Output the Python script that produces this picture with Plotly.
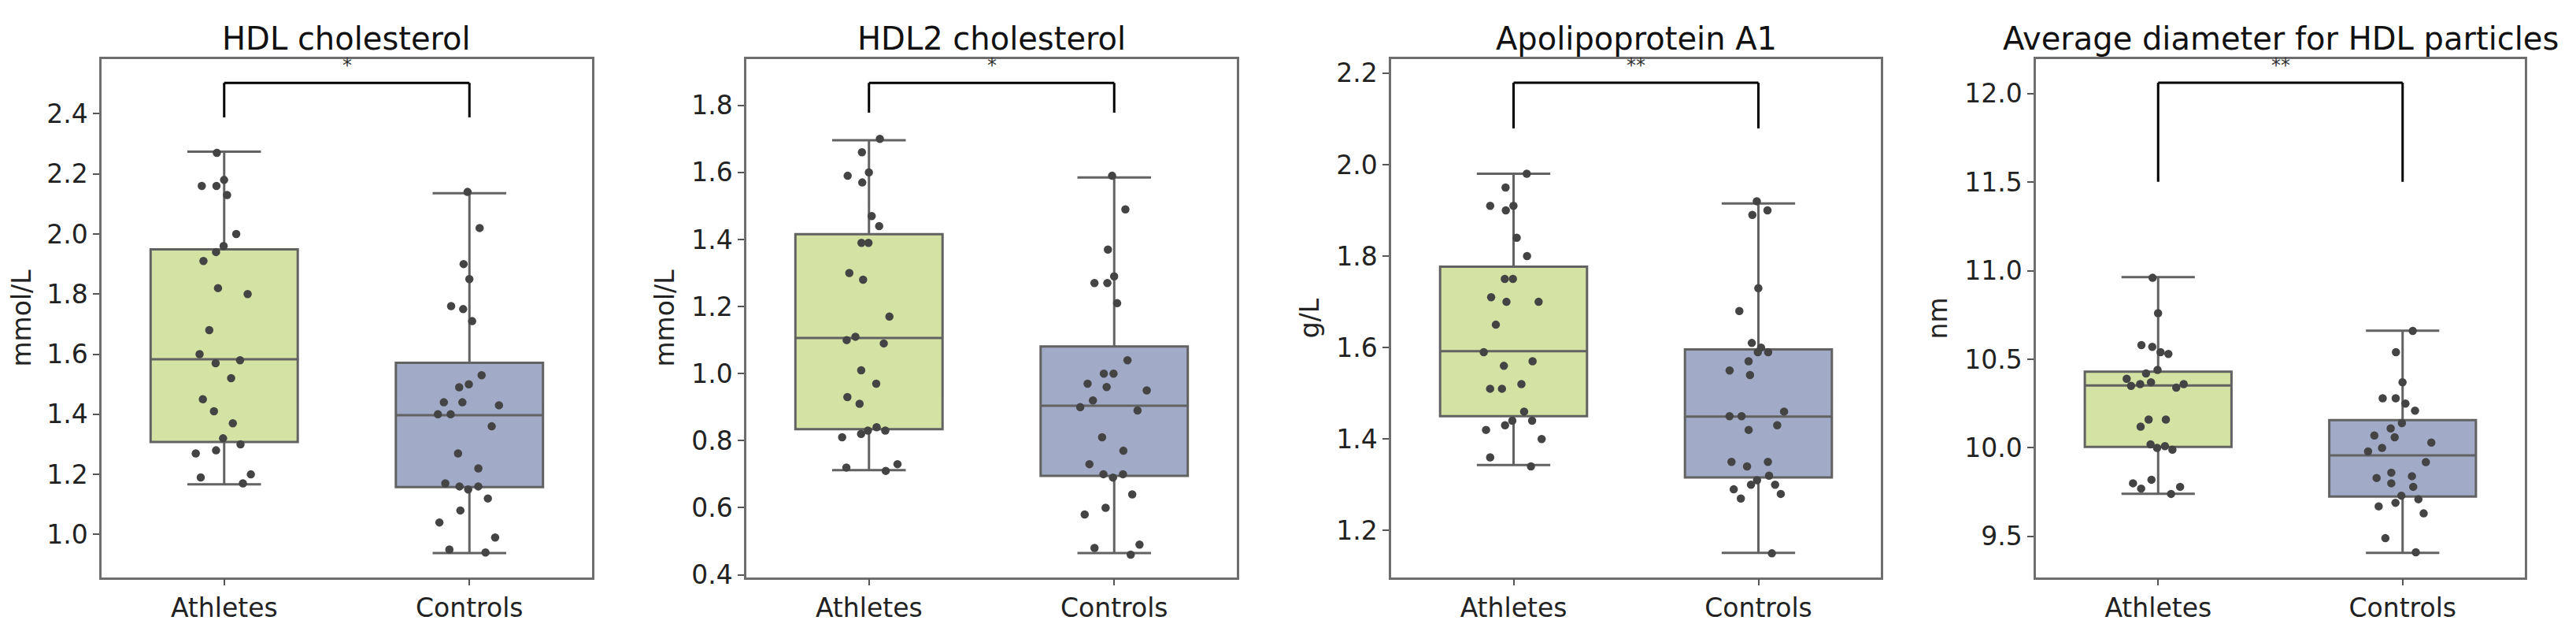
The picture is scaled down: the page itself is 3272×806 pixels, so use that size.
import plotly.graph_objects as go

# %% data
GROUPS = ["Athletes", "Controls"]
TITLES = ["HDL cholesterol", "HDL2 cholesterol", "Apolipoprotein A1",
          "Average diameter for HDL particles"]
UNITS = ["mmol/L", "mmol/L", "g/L", "nm"]
STARS = ["*", "*", "**", "**"]

# individual measurements (strip plot)
hdl_athletes = [2.27, 2.16, 2.13, 2.18, 2.16, 2.00, 1.96, 1.94, 1.91, 1.80, 1.82, 1.68, 1.60,
                1.58, 1.57, 1.52, 1.45, 1.41, 1.37, 1.32, 1.30, 1.28, 1.27, 1.20, 1.19, 1.17]
hdl_controls = [2.14, 2.02, 1.90, 1.85, 1.76, 1.75, 1.71, 1.53, 1.50, 1.49, 1.43, 1.44, 1.44, 1.40,
                1.40, 1.36, 1.27, 1.22, 1.16, 1.15, 1.12, 1.16, 1.17, 1.08, 1.04, 0.99, 0.95, 0.94]

hdl2_athletes = [1.70, 1.66, 1.60, 1.59, 1.57, 1.47, 1.44, 1.39, 1.39, 1.30, 1.28, 1.17, 1.11, 1.10,
                 1.09, 1.01, 0.97, 0.93, 0.91, 0.84, 0.83, 0.83, 0.82, 0.81, 0.73, 0.72, 0.71]
hdl2_controls = [1.59, 1.49, 1.37, 1.29, 1.27, 1.27, 1.21, 1.04, 1.00, 1.00, 0.97, 0.96, 0.95, 0.92,
                 0.90, 0.89, 0.81, 0.77, 0.73, 0.70, 0.70, 0.69, 0.64, 0.60, 0.58, 0.48, 0.49, 0.46]

apoa1_athletes = [1.98, 1.95, 1.91, 1.91, 1.90, 1.84, 1.80, 1.75, 1.75, 1.71, 1.70, 1.70, 1.65, 1.59,
                  1.57, 1.56, 1.52, 1.51, 1.51, 1.46, 1.44, 1.44, 1.43, 1.42, 1.40, 1.36, 1.34]
apoa1_controls = [1.92, 1.89, 1.90, 1.73, 1.68, 1.61, 1.60, 1.59, 1.59, 1.57, 1.55, 1.54, 1.46, 1.45,
                  1.45, 1.43, 1.42, 1.35, 1.35, 1.34, 1.32, 1.31, 1.30, 1.30, 1.29, 1.28, 1.27, 1.15]

diam_athletes = [10.96, 10.76, 10.57, 10.53, 10.58, 10.54, 10.44, 10.42, 10.36, 10.36, 10.34, 10.39,
                 10.37, 10.35, 10.16, 10.16, 10.12, 9.99, 10.00, 10.01, 10.02, 9.82, 9.78, 9.77,
                 9.74, 9.80]
diam_controls = [10.66, 10.54, 10.37, 10.25, 10.28, 10.28, 10.21, 10.14, 10.11, 10.06, 10.07, 10.03,
                 10.00, 9.98, 9.92, 9.86, 9.83, 9.84, 9.80, 9.78, 9.73, 9.69, 9.71, 9.67, 9.63,
                 9.49, 9.41]

# box statistics: q1, median, q3, lower whisker, upper whisker
hdl_box_athletes = [1.308, 1.583, 1.949, 1.167, 2.274]
hdl_box_controls = [1.158, 1.397, 1.571, 0.938, 2.136]
hdl2_box_athletes = [0.834, 1.106, 1.416, 0.712, 1.696]
hdl2_box_controls = [0.695, 0.904, 1.081, 0.465, 1.585]
apoa1_box_athletes = [1.450, 1.592, 1.777, 1.343, 1.980]
apoa1_box_controls = [1.316, 1.449, 1.596, 1.151, 1.915]
diam_box_athletes = [10.005, 10.352, 10.430, 9.741, 10.964]
diam_box_controls = [9.725, 9.957, 10.157, 9.407, 10.661]

POINTS = [(hdl_athletes, hdl_controls), (hdl2_athletes, hdl2_controls),
          (apoa1_athletes, apoa1_controls), (diam_athletes, diam_controls)]
BOXES = [(hdl_box_athletes, hdl_box_controls), (hdl2_box_athletes, hdl2_box_controls),
         (apoa1_box_athletes, apoa1_box_controls), (diam_box_athletes, diam_box_controls)]

# %% layout settings
W, H = 3272, 806
FONT = "DejaVu Sans"
FILLS = ["#d4e3a4", "#a1aac6"]
X_PIX = [(121, 744), (940, 1563), (1759, 2381), (2578, 3199)]
Y_DOMAIN = [(H - 740) / H, (H - 67) / H]
Y_RANGES = [(0.858, 2.581), (0.393, 1.937), (1.098, 2.230), (9.270, 12.193)]
Y_TICK0 = [1.0, 0.4, 1.2, 9.5]
Y_DTICK = [0.2, 0.2, 0.2, 0.5]
BRACKETS = [(2.388, 2.503), (1.778, 1.867), (2.079, 2.179), (11.502, 12.061)]

fig = go.Figure()
layout = dict(width=W, height=H, autosize=False, margin=dict(l=0, r=0, t=0, b=0),
              paper_bgcolor="white", plot_bgcolor="white", showlegend=False,
              boxmode="overlay", font=dict(family=FONT, color="#222"))
shapes, annotations = [], []

for i in range(4):
    sfx = "" if i == 0 else str(i + 1)
    xa, ya = "x" + sfx, "y" + sfx

    for g, stats, fill in zip(GROUPS, BOXES[i], FILLS):
        q1, med, q3, lo, hi = stats
        fig.add_trace(go.Box(
            x=[g], q1=[q1], median=[med], q3=[q3], lowerfence=[lo], upperfence=[hi],
            width=0.6, whiskerwidth=0.5, fillcolor=fill, boxpoints=False,
            line=dict(color="#626262", width=3), xaxis=xa, yaxis=ya, hoverinfo="skip"))

    for g, vals in zip(GROUPS, POINTS[i]):
        fig.add_trace(go.Box(
            x=[g] * len(vals), y=vals, boxpoints="all", jitter=0.5, pointpos=0,
            width=0.6, fillcolor="rgba(0,0,0,0)", line=dict(color="rgba(0,0,0,0)", width=0),
            marker=dict(color="#444444", size=10.5), xaxis=xa, yaxis=ya))

    x0, x1 = X_PIX[i]
    dom = [x0 / W, x1 / W]
    layout["xaxis" + sfx] = dict(
        domain=dom, anchor=ya, type="category", categoryarray=GROUPS, range=[-0.5, 1.5],
        showline=True, mirror=True, linecolor="#6e6e6e", linewidth=2.5,
        ticks="outside", ticklen=8, tickwidth=2, tickcolor="#555",
        tickfont=dict(size=33, color="#222"), showgrid=False, zeroline=False)
    layout["yaxis" + sfx] = dict(
        domain=Y_DOMAIN, anchor=xa, range=list(Y_RANGES[i]), tick0=Y_TICK0[i],
        dtick=Y_DTICK[i], tickformat=".1f",
        showline=True, mirror=True, linecolor="#6e6e6e", linewidth=2.5,
        ticks="outside", ticklen=8, tickwidth=2, tickcolor="#555",
        tickfont=dict(size=33, color="#222"), showgrid=False, zeroline=False,
        title=dict(text=UNITS[i], font=dict(size=33, color="#222"), standoff=12))

    # significance bracket
    lo, hi = BRACKETS[i]
    line = dict(color="black", width=3)
    shapes += [
        dict(type="line", xref=xa, yref=ya, x0=0, x1=0, y0=lo, y1=hi, line=line),
        dict(type="line", xref=xa, yref=ya, x0=0, x1=1, y0=hi, y1=hi, line=line),
        dict(type="line", xref=xa, yref=ya, x0=1, x1=1, y0=lo, y1=hi, line=line),
    ]
    annotations.append(dict(text=STARS[i], xref=xa, yref=ya, x=0.5, y=hi, yanchor="bottom",
                            yshift=6, showarrow=False, font=dict(size=24, color="#333")))
    annotations.append(dict(text=TITLES[i], xref="paper", yref="paper", x=sum(dom) / 2,
                            y=(H - 40) / H, xanchor="center", yanchor="middle",
                            showarrow=False, font=dict(size=40, color="#111")))

layout["shapes"] = shapes
layout["annotations"] = annotations
fig.update_layout(**layout)

fig.write_html("out.html")
